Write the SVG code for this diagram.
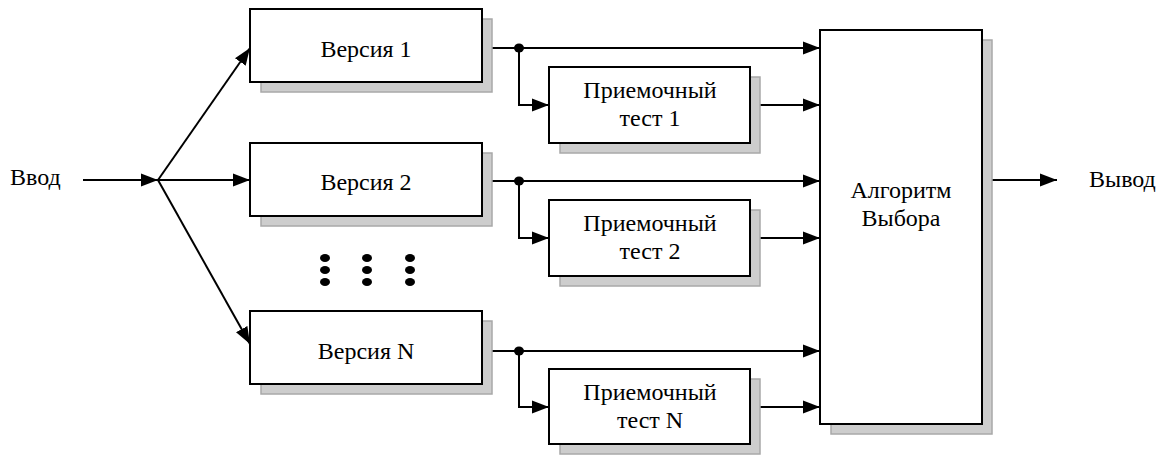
<svg xmlns="http://www.w3.org/2000/svg" width="1167" height="455" viewBox="0 0 1167 455">
<style>
.box{fill:#fff;stroke:#000;stroke-width:2}
.sh{fill:#cdcdcd;stroke:#a8a8a8;stroke-width:1.5}
text{font-family:'Liberation Serif','Times New Roman',serif;font-size:24px;fill:#000}
.c{text-anchor:middle}
.ln{fill:none;stroke:#000;stroke-width:2}
</style>
<defs>
<marker id="ah" markerUnits="userSpaceOnUse" markerWidth="18" markerHeight="14" refX="17" refY="7" orient="auto">
<path d="M0,0.5 L17,7 L0,13.5 Z" fill="#000"/>
</marker>
</defs>
<g id="connectors">
<line class="ln" x1="83" y1="180" x2="158" y2="180" marker-end="url(#ah)"/>
<line class="ln" x1="158" y1="180" x2="250" y2="48" marker-end="url(#ah)"/>
<line class="ln" x1="158" y1="180" x2="250" y2="180" marker-end="url(#ah)"/>
<line class="ln" x1="158" y1="180" x2="250" y2="344" marker-end="url(#ah)"/>
<line class="ln" x1="482" y1="48" x2="820" y2="48" marker-end="url(#ah)"/>
<polyline class="ln" points="519,48 519,105 549,105" marker-end="url(#ah)"/>
<line class="ln" x1="750" y1="105" x2="820" y2="105" marker-end="url(#ah)"/>
<ellipse cx="519" cy="48" rx="5" ry="4.5"/>
<line class="ln" x1="482" y1="181" x2="820" y2="181" marker-end="url(#ah)"/>
<polyline class="ln" points="519,181 519,238 549,238" marker-end="url(#ah)"/>
<line class="ln" x1="750" y1="238" x2="820" y2="238" marker-end="url(#ah)"/>
<ellipse cx="519" cy="181" rx="5" ry="4.5"/>
<line class="ln" x1="482" y1="351" x2="820" y2="351" marker-end="url(#ah)"/>
<polyline class="ln" points="519,351 519,407 549,407" marker-end="url(#ah)"/>
<line class="ln" x1="750" y1="407" x2="820" y2="407" marker-end="url(#ah)"/>
<ellipse cx="519" cy="351" rx="5" ry="4.5"/>
<line class="ln" x1="982" y1="180" x2="1057" y2="180" marker-end="url(#ah)"/>
</g>
<g id="input"><text x="10" y="185">Ввод</text></g>
<g id="output"><text x="1089" y="187">Вывод</text></g>
<g id="v1">
<rect class="sh" x="261" y="19" width="231" height="73"/>
<rect class="box" x="250" y="9" width="232" height="73"/>
<text class="c" x="366" y="57">Версия 1</text>
</g>
<g id="v2">
<rect class="sh" x="261" y="153" width="231" height="73"/>
<rect class="box" x="250" y="143" width="232" height="73"/>
<text class="c" x="366" y="190">Версия 2</text>
</g>
<g id="vN">
<rect class="sh" x="261" y="321" width="231" height="73"/>
<rect class="box" x="250" y="311" width="232" height="73"/>
<text class="c" x="366" y="359">Версия N</text>
</g>
<g id="t1">
<rect class="sh" x="560" y="77" width="200" height="76"/>
<rect class="box" x="549" y="67" width="201" height="76"/>
<text class="c" x="650" y="98">Приемочный</text>
<text class="c" x="650" y="126">тест 1</text>
</g>
<g id="t2">
<rect class="sh" x="560" y="210" width="200" height="76"/>
<rect class="box" x="549" y="200" width="201" height="76"/>
<text class="c" x="650" y="231">Приемочный</text>
<text class="c" x="650" y="259">тест 2</text>
</g>
<g id="tN">
<rect class="sh" x="560" y="379" width="200" height="75"/>
<rect class="box" x="549" y="369" width="201" height="75"/>
<text class="c" x="650" y="400">Приемочный</text>
<text class="c" x="650" y="428">тест N</text>
</g>
<g id="alg">
<rect class="sh" x="831" y="40" width="161" height="394"/>
<rect class="box" x="820" y="30" width="162" height="394"/>
<text class="c" x="901" y="198">Алгоритм</text>
<text class="c" x="901" y="226">Выбора</text>
</g>
<g id="dots">
<ellipse cx="325" cy="258" rx="5" ry="4"/><ellipse cx="325" cy="270" rx="5" ry="4"/><ellipse cx="325" cy="282" rx="5" ry="4"/>
<ellipse cx="367" cy="258" rx="5" ry="4"/><ellipse cx="367" cy="270" rx="5" ry="4"/><ellipse cx="367" cy="282" rx="5" ry="4"/>
<ellipse cx="410" cy="258" rx="5" ry="4"/><ellipse cx="410" cy="270" rx="5" ry="4"/><ellipse cx="410" cy="282" rx="5" ry="4"/>
</g>
</svg>
